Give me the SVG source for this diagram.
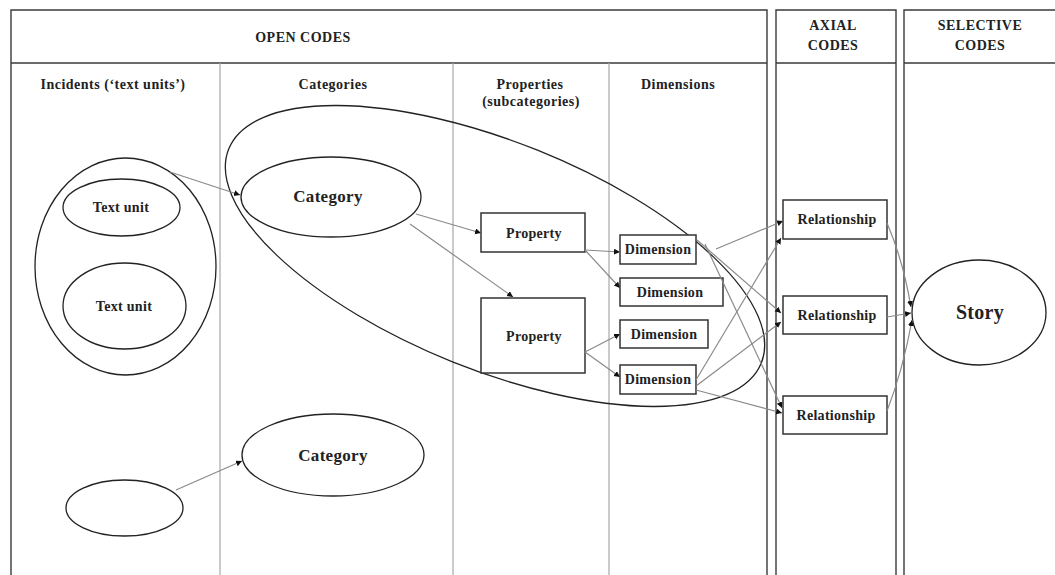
<svg xmlns="http://www.w3.org/2000/svg" width="1055" height="575" viewBox="0 0 1055 575">
<style>
.bg{fill:#fff}
.frame{stroke:#3a3a3a;stroke-width:1.4;fill:none}
.div{stroke:#a8a8a8;stroke-width:1.2;fill:none}
.hd{font-family:"Liberation Serif","Times New Roman",serif;font-weight:bold;font-size:14px;letter-spacing:0.5px;fill:#222;text-anchor:middle}
.nd{font-family:"Liberation Serif","Times New Roman",serif;font-weight:bold;font-size:14px;letter-spacing:0.3px;fill:#222;text-anchor:middle}
.big{font-size:17px}
.el{fill:none;stroke:#222;stroke-width:1.3}
.bx{fill:#fff;stroke:#333;stroke-width:1.5}
.cn{stroke:#8a8a8a;stroke-width:1.2;fill:none;marker-end:url(#ah)}
</style>
<defs>
<marker id="ah" markerUnits="userSpaceOnUse" markerWidth="7" markerHeight="7" refX="6" refY="3" orient="auto">
<path d="M0,0 L6,3 L0,6 z" fill="#111"/>
</marker>
</defs>
<rect class="bg" x="0" y="0" width="1055" height="575"/>
<g id="frame">
<path class="frame" d="M11,575 V10 H767 V575"/>
<path class="frame" d="M11,63 H767"/>
<path class="div" d="M220,63 V575 M453,63 V575 M609,63 V575"/>
<path class="frame" d="M776,575 V10 H896 V575 M776,63 H896"/>
<path class="frame" d="M904,575 V10 H1055 M904,63 H1055"/>
<text class="hd" x="303" y="42">OPEN CODES</text>
<text class="hd" x="833" y="30">AXIAL</text>
<text class="hd" x="833" y="50">CODES</text>
<text class="hd" x="980" y="30">SELECTIVE</text>
<text class="hd" x="980" y="50">CODES</text>
<text class="hd" x="113" y="89">Incidents (‘text units’)</text>
<text class="hd" x="333" y="89">Categories</text>
<text class="hd" x="530" y="89">Properties</text>
<text class="hd" x="531" y="106">(subcategories)</text>
<text class="hd" x="678" y="89">Dimensions</text>
</g>
<g id="group-ellipse">
<ellipse class="el" cx="495" cy="256" rx="287" ry="114" transform="rotate(21.9 495 256)" stroke="#444"/>
</g>
<g id="incidents">
<ellipse class="el" cx="125.5" cy="266.5" rx="90.5" ry="108.5"/>
</g>
<g id="textunit1">
<ellipse class="el" cx="121.5" cy="207.5" rx="58.5" ry="28.5"/>
<text class="nd" x="121" y="212">Text unit</text>
</g>
<g id="textunit2">
<ellipse class="el" cx="124.5" cy="306" rx="61.5" ry="43"/>
<text class="nd" x="124" y="311">Text unit</text>
</g>
<g id="textunit3">
<ellipse class="el" cx="124.5" cy="508" rx="58.5" ry="28"/>
</g>
<g id="category1">
<ellipse class="el" cx="331" cy="197" rx="90" ry="40"/>
<text class="nd big" x="328" y="202">Category</text>
</g>
<g id="category2">
<ellipse class="el" cx="333" cy="455" rx="91" ry="41"/>
<text class="nd big" x="333" y="461">Category</text>
</g>
<g id="property1">
<rect class="bx" x="481" y="213" width="104" height="39"/>
<text class="nd" x="534" y="238">Property</text>
</g>
<g id="property2">
<rect class="bx" x="481" y="298" width="104" height="75"/>
<text class="nd" x="534" y="341">Property</text>
</g>
<g id="dimension1">
<rect class="bx" x="620" y="235" width="76" height="29"/>
<text class="nd" x="658" y="254">Dimension</text>
</g>
<g id="dimension2">
<rect class="bx" x="620" y="278" width="103" height="28"/>
<text class="nd" x="670" y="297">Dimension</text>
</g>
<g id="dimension3">
<rect class="bx" x="620" y="320" width="88" height="28"/>
<text class="nd" x="664" y="339">Dimension</text>
</g>
<g id="dimension4">
<rect class="bx" x="620" y="365" width="76" height="29"/>
<text class="nd" x="658" y="384">Dimension</text>
</g>
<g id="relationship1">
<rect class="bx" x="783" y="200" width="104" height="39"/>
<text class="nd" x="837" y="224">Relationship</text>
</g>
<g id="relationship2">
<rect class="bx" x="783" y="296" width="104" height="38"/>
<text class="nd" x="837" y="320">Relationship</text>
</g>
<g id="relationship3">
<rect class="bx" x="783" y="396" width="104" height="38"/>
<text class="nd" x="836" y="420">Relationship</text>
</g>
<g id="story">
<ellipse class="el" cx="979" cy="312.5" rx="67" ry="52.5"/>
<text class="nd" x="980" y="319" style="font-size:20px">Story</text>
</g>
<g id="connectors">
<path class="cn" d="M170,172 L240,195"/>
<path class="cn" d="M176,490 L242,461"/>
<path class="cn" d="M416,214 L481,233"/>
<path class="cn" d="M410,224 L513,297"/>
<path class="cn" d="M585,250 L620,252"/>
<path class="cn" d="M585,250 L620,288"/>
<path class="cn" d="M585,352 L620,334"/>
<path class="cn" d="M585,352 L620,377"/>
<path class="cn" d="M716,249 L783,221"/>
<path class="cn" d="M697,240 L781,313"/>
<path class="cn" d="M705,244 L782,408"/>
<path class="cn" d="M696,380 L781,238"/>
<path class="cn" d="M696,386 L781,322"/>
<path class="cn" d="M696,390 L782,413"/>
<path class="cn" d="M887,223 Q903,260 911,307"/>
<path class="cn" d="M887,317 L911,313"/>
<path class="cn" d="M887,411 Q903,370 912,320"/>
</g>
</svg>
